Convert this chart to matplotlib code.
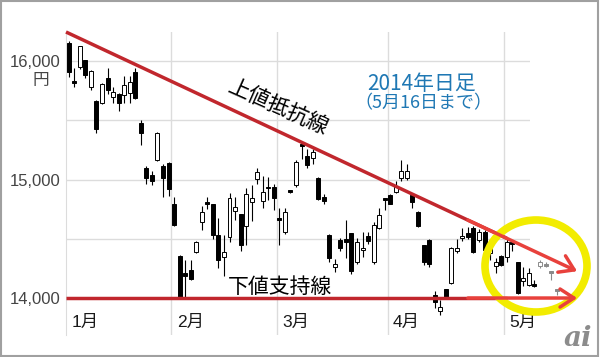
import matplotlib.pyplot as plt
from matplotlib.patches import Ellipse, Rectangle

# trading days per month, Jan 6 - May 16 2014
months = ["1月", "2月", "3月", "4月", "5月"]
days_in_month = [19, 19, 20, 21, 10]

o = [16150, 15835, 15950, 16005, 15785, 15660, 15650, 15855, 15700, 15720,
     15715, 15730, 15910, 15480, 15095, 15040, 15165, 15115, 15140,
     14790, 14355, 14210, 14235, 14385, 14645, 14810, 14790, 14535, 14345,
     14515, 14735, 14705, 14610, 14810, 15005, 14815, 14940, 14940,
     14675, 14560, 14910, 14955, 15295, 15200, 15185, 15015, 14850, 14535,
     14265, 14490, 14500, 14545, 14305, 14405, 14520, 14305, 14590, 14840,
     14870, 14895, 15010, 15010, 14870, 14730, 14445, 14490, 14025, 13890,
     14075, 14125, 14395, 14505, 14545, 14590, 14490, 14560, 14380, 14270,
     14355,
     14350, 14470, 14300, 14140, 14110, 14115, 14270, 14285, 14225, 14070]
h = [16165, 15940, 16130, 16010, 15925, 15670, 15815, 15940, 15780, 15730,
     15870, 15870, 15940, 15500, 15110, 15070, 15400, 15130, 15145,
     14855, 14360, 14320, 14320, 14480, 14780, 14855, 14795, 14675, 14535,
     14890, 14850, 14710, 14930, 14950, 15100, 15030, 15020, 14960,
     14760, 14760, 14915, 15165, 15300, 15260, 15260, 15020, 14880, 14540,
     14330, 14510, 14660, 14550, 14510, 14560, 14560, 14640, 14760, 14845,
     14880, 14990, 15165, 15130, 14880, 14735, 14450, 14500, 14060, 13980,
     14080, 14430, 14500, 14590, 14600, 14610, 14580, 14570, 14430, 14340,
     14360,
     14510, 14475, 14305, 14265, 14250, 14150, 14320, 14300, 14225, 14070]
l = [15865, 15785, 15930, 15855, 15755, 15390, 15640, 15720, 15650, 15580,
     15645, 15650, 15680, 15290, 14960, 14950, 15160, 14855, 14860,
     14610, 14000, 14005, 14150, 14380, 14570, 14755, 14495, 14250, 14185,
     14470, 14660, 14400, 14450, 14650, 14960, 14760, 14830, 14740,
     14450, 14540, 14890, 14940, 15170, 15100, 15130, 14830, 14790, 14300,
     14220, 14400, 14340, 14200, 14290, 14350, 14460, 14290, 14580, 14745,
     14790, 14890, 14990, 15000, 14760, 14600, 14280, 14260, 13920, 13860,
     13990, 14120, 14380, 14480, 14500, 14380, 14470, 14400, 14320, 14210,
     14270,
     14300, 14400, 14035, 14100, 14100, 14095, 14255, 14260, 14150, 14025]
c = [15910, 15815, 16125, 15885, 15915, 15425, 15810, 15755, 15740, 15645,
     15800, 15825, 15690, 15390, 15010, 14990, 15390, 15015, 14920,
     14620, 14010, 14185, 14160, 14470, 14725, 14790, 14535, 14320, 14390,
     14845, 14770, 14445, 14875, 14845, 15065, 14895, 14925, 14840,
     14660, 14730, 14897, 15150, 15285, 15125, 15230, 14835, 14820, 14335,
     14290, 14420, 14475, 14225, 14475, 14425, 14480, 14620, 14700, 14830,
     14795, 14945, 15070, 15070, 14810, 14610, 14300, 14290, 13970, 13925,
     13995, 14420, 14420, 14525, 14515, 14390, 14560, 14405, 14430, 14300,
     14275,
     14475, 14460, 14040, 14170, 14210, 14105, 14300, 14270, 14215, 14060]
n_faded = 4  # last days drawn in by hand, light

n = len(c)
x = list(range(n))

fig = plt.figure(figsize=(6, 3.57), dpi=100)
ax = fig.add_axes([66 / 600, 22 / 357, 464 / 600, 303 / 357])
ax.set_xlim(-0.49, 83.2)
ax.set_ylim(13688, 16245)

ax.set_yticks([14000, 14500, 15000, 15500, 16000])
ax.set_yticklabels(["14,000", "", "15,000", "", "16,000"],
                   fontsize=12, color="#444444", family="Liberation Sans")
ax.tick_params(axis="y", length=0, pad=4)
ax.set_xticks([])
ax.yaxis.grid(True, color="#dcdcdc", lw=1)
ax.set_axisbelow(True)
for s in ["top", "right", "bottom"]:
    ax.spines[s].set_visible(False)
ax.spines["left"].set_color("#dcdcdc")

start = 0
for m, d in zip(months, days_in_month):
    if start > 0:
        ax.axvline(start - 0.5, color="#dcdcdc", lw=1, zorder=0)
    ax.text(start + 0.5, 0.043, m, transform=ax.get_xaxis_transform(),
            fontsize=12.5, ha="left", va="center", color="#1a1a1a",
            family=["Liberation Sans", "Noto Sans CJK JP"])
    start += d

fig.text(41 / 600, 1 - 80 / 357, "円", fontsize=12, color="#444444",
         ha="center", va="center", family=["Noto Sans CJK JP", "DejaVu Sans"])

# candles
cols = ["black"] * (n - n_faded) + ["#8a8a8a"] * n_faded
bottoms = [min(a, b) for a, b in zip(o, c)]
heights = [max(abs(b - a), 12) for a, b in zip(o, c)]
faces = ["white" if cc > oo else col for oo, cc, col in zip(o, c, cols)]
ax.vlines(x, l, h, colors=cols, lw=0.8, zorder=3, clip_on=False)
ax.bar(x, heights, bottom=bottoms, width=0.72, color=faces,
       edgecolor=cols, lw=0.7, zorder=4, clip_on=False)

# trend lines
x0, y0, slope = -0.49, 16245, -21.9
def res(v):
    return y0 + slope * (v - x0)

dark = "#c1272d"
bright = "#e8413c"
ax.plot([x0, 79], [res(x0), res(79)], color=dark, lw=2.5, zorder=5,
        clip_on=False, solid_capstyle="butt")
ax.plot([x0, 79], [14000, 14000], color=dark, lw=2.5, zorder=5,
        clip_on=False, solid_capstyle="butt")
arrow = dict(arrowstyle="->,head_length=1.0,head_width=0.65", color=bright,
             lw=2.5, shrinkA=0, shrinkB=0)
ax.annotate("", xy=(91.7, res(91.7)), xytext=(72, res(72)),
            arrowprops=arrow, annotation_clip=False, zorder=7)
ax.annotate("", xy=(91.7, 14000), xytext=(72, 14000),
            arrowprops=arrow, annotation_clip=False, zorder=7)

ax.add_patch(Ellipse((536 / 600, 1 - 266 / 357), 102 / 600, 92 / 357,
                     transform=fig.transFigure, fill=False, ec="#f2ec00",
                     lw=5.5, zorder=6, clip_on=False))

cjk = ["Noto Sans CJK JP", "DejaVu Sans"]
fig.text(278 / 600, 1 - 108 / 357, "上値抵抗線", fontsize=15.5, rotation=-24,
         rotation_mode="anchor", ha="center", va="center", family=cjk)
fig.text(280 / 600, 1 - 287 / 357, "下値支持線", fontsize=15,
         ha="center", va="center", family=cjk)
fig.text(422 / 600, 1 - 84 / 357, "2014年日足", fontsize=15, color="#1f78b4",
         ha="center", va="center", family=cjk)
fig.text(423 / 600, 1 - 103 / 357, "（5月16日まで）", fontsize=13,
         color="#1f78b4", ha="center", va="center", family=cjk)

fig.text(578 / 600, 1 - 338 / 357, "ai", fontsize=20, style="italic",
         weight="bold", color="#8c8c8c", ha="center", va="center",
         family="DejaVu Serif")

fig.add_artist(Rectangle((0.002, 0.003), 0.994, 0.993, transform=fig.transFigure,
                         fill=False, ec="#a0a0a0", lw=1.5))

fig.savefig("out.png", dpi=100)
